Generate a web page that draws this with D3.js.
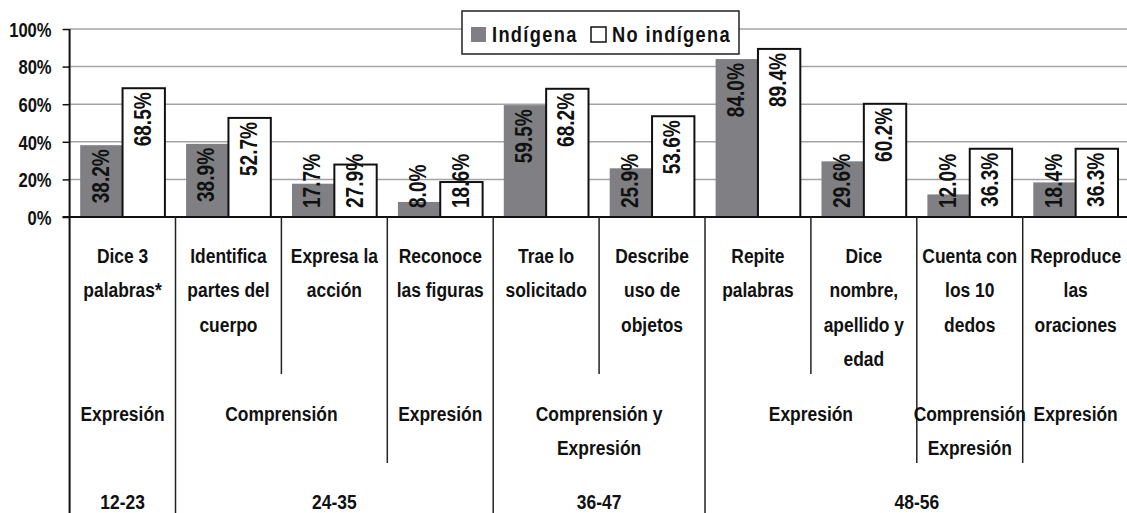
<!DOCTYPE html>
<html>
<head>
<meta charset="utf-8">
<script src="https://cdn.jsdelivr.net/npm/d3@7"></script>
<style>
  body { margin: 0; background: #fff; }
  svg { display: block; }
  text { font-family: "Liberation Sans", Arial, sans-serif; font-weight: bold; fill: #111; }
</style>
</head>
<body>
<div id="chart"></div>
<script>
// Chart data
const items = [
  ["Dice 3", "palabras*"],
  ["Identifica", "partes del", "cuerpo"],
  ["Expresa la", "acción"],
  ["Reconoce", "las figuras"],
  ["Trae lo", "solicitado"],
  ["Describe", "uso de", "objetos"],
  ["Repite", "palabras"],
  ["Dice", "nombre,", "apellido y", "edad"],
  ["Cuenta con", "los 10", "dedos"],
  ["Reproduce", "las", "oraciones"]
];
const areas = [
  { from: 0, to: 0, lines: ["Expresión"] },
  { from: 1, to: 2, lines: ["Comprensión"] },
  { from: 3, to: 3, lines: ["Expresión"] },
  { from: 4, to: 5, lines: ["Comprensión y", "Expresión"] },
  { from: 6, to: 7, lines: ["Expresión"] },
  { from: 8, to: 8, lines: ["Comprensión", "Expresión"] },
  { from: 9, to: 9, lines: ["Expresión"] }
];
const ages = [
  { from: 0, to: 0, label: "12-23" },
  { from: 1, to: 3, label: "24-35" },
  { from: 4, to: 5, label: "36-47" },
  { from: 6, to: 9, label: "48-56" }
];
const seriesNames = ["Indígena", "No indígena"];
const indigena = [38.2, 38.9, 17.7, 8.0, 59.5, 25.9, 84.0, 29.6, 12.0, 18.4];
const noIndigena = [68.5, 52.7, 27.9, 18.6, 68.2, 53.6, 89.4, 60.2, 36.3, 36.3];
const yTicks = [0, 20, 40, 60, 80, 100];

(function() {
  const W = 1127, H = 513;
  const left = 69.6, right = 1128.6, top = 29, zeroY = 217;
  const narrow = 0.83; // no Arial Narrow installed: squeeze Liberation Sans

  const svg = d3.select("#chart").append("svg")
    .attr("width", W).attr("height", H);

  const x = d3.scaleBand().domain(d3.range(items.length)).range([left, right]);
  const x1 = d3.scaleBand().domain(seriesNames).range([0, x.bandwidth()])
    .paddingInner(0).paddingOuter(0.25);
  const y = d3.scaleLinear().domain([0, 100]).range([zeroY, top]);

  // Gridlines
  svg.append("g").selectAll("line")
    .data(yTicks.filter(d => d > 0))
    .join("line")
    .attr("x1", left).attr("x2", W)
    .attr("y1", d => y(d)).attr("y2", d => y(d))
    .attr("stroke", "#a3a3a8").attr("stroke-width", 1.5);

  // Y axis
  const yAxis = d3.axisLeft(y).tickValues(yTicks).tickSize(7).tickPadding(0)
    .tickFormat(d => d + "%");
  const gy = svg.append("g").attr("transform", `translate(${left},0)`).call(yAxis);
  gy.select(".domain").remove();
  gy.selectAll(".tick line").attr("stroke", "#111").attr("stroke-width", 1.5);
  gy.selectAll(".tick text")
    .attr("x", null).attr("dy", "0.36em")
    .attr("transform", `translate(-18,0) scale(${narrow},1)`)
    .style("font-size", "20px")
    .style("font-family", "\"Liberation Sans\", Arial, sans-serif")
    .style("font-weight", "bold").attr("fill", "#111");

  // Bars
  const rows = items.map((d, i) => ({ i, vals: [indigena[i], noIndigena[i]] }));
  const groups = svg.append("g").selectAll("g")
    .data(rows).join("g")
    .attr("transform", d => `translate(${x(d.i)},0)`);

  groups.selectAll("rect")
    .data(d => d.vals.map((v, k) => ({ key: seriesNames[k], v })))
    .join("rect")
    .attr("x", d => x1(d.key))
    .attr("width", x1.bandwidth())
    .attr("y", d => y(d.v))
    .attr("height", d => zeroY - y(d.v))
    .attr("fill", d => d.key === "Indígena" ? "#7f7f84" : "#fff")
    .attr("stroke", d => d.key === "Indígena" ? "none" : "#111")
    .attr("stroke-width", 2);

  // Value labels, rotated, inside end
  groups.selectAll("text.val")
    .data(d => d.vals.map((v, k) => ({ key: seriesNames[k], v })))
    .join("text")
    .attr("class", "val")
    .style("font-size", "23px")
    .attr("dominant-baseline", "central")
    .text(d => d.v.toFixed(1) + "%")
    .each(function(d) {
      const len = this.getComputedTextLength() * narrow;
      const cx = x1(d.key) + x1.bandwidth() / 2 - 1;
      let startY = y(d.v) + 4 + len;
      if (startY > zeroY - 9) startY = zeroY - 9;
      d3.select(this).attr("transform",
        `translate(${cx},${startY}) rotate(-90) scale(${narrow},1)`);
    });

  // Zero axis line and left axis line
  svg.append("line").attr("x1", left - 7).attr("x2", W)
    .attr("y1", zeroY).attr("y2", zeroY)
    .attr("stroke", "#111").attr("stroke-width", 2);
  svg.append("line").attr("x1", left).attr("x2", left)
    .attr("y1", top).attr("y2", H)
    .attr("stroke", "#111").attr("stroke-width", 2);

  // Category dividers (multi-level)
  const level1End = 374, level2End = 463;
  const ageStarts = new Set(ages.map(a => a.from));
  const areaStarts = new Set(areas.map(a => a.from));
  const dividers = d3.range(1, items.length).map(i => ({
    x: x(i),
    end: ageStarts.has(i) ? H : (areaStarts.has(i) ? level2End : level1End)
  }));
  svg.append("g").selectAll("line")
    .data(dividers).join("line")
    .attr("x1", d => d.x).attr("x2", d => d.x)
    .attr("y1", zeroY).attr("y2", d => d.end)
    .attr("stroke", "#222").attr("stroke-width", 1.5);

  // helper for multi-line, squeezed labels
  function multiLine(g, data, cxFn, y0, linesFn, lineH) {
    g.selectAll("text")
      .data(data).join("text")
      .attr("text-anchor", "middle")
      .style("font-size", "21px")
      .attr("transform", (d, i) => `translate(${cxFn(d, i)},${y0}) scale(${narrow},1)`)
      .selectAll("tspan")
      .data(linesFn).join("tspan")
      .attr("x", 0)
      .attr("dy", (d, k) => k === 0 ? 0 : lineH)
      .text(d => d);
  }

  // Item labels
  multiLine(svg.append("g"), items, (d, i) => x(i) + x.bandwidth() / 2, 263, d => d, 34.5);
  // Area labels
  multiLine(svg.append("g"), areas, d => (x(d.from) + x(d.to) + x.bandwidth()) / 2, 421, d => d.lines, 34);
  // Age labels
  multiLine(svg.append("g"), ages, d => (x(d.from) + x(d.to) + x.bandwidth()) / 2, 509, d => [d.label], 0);

  // Legend
  const legend = svg.append("g").attr("transform", "translate(462,11)");
  legend.append("rect").attr("width", 277).attr("height", 43)
    .attr("fill", "#fff").attr("stroke", "#222").attr("stroke-width", 1.5);
  const legendItems = [
    { name: seriesNames[0], sx: 9, tx: 30, fill: "#7f7f84", stroke: "none" },
    { name: seriesNames[1], sx: 129, tx: 150, fill: "#fff", stroke: "#111" }
  ];
  legendItems.forEach(li => {
    legend.append("rect").attr("x", li.sx).attr("y", 16).attr("width", 15).attr("height", 15)
      .attr("fill", li.fill).attr("stroke", li.stroke).attr("stroke-width", 1.5);
    legend.append("text")
      .attr("transform", `translate(${li.tx},30.5) scale(${narrow},1)`)
      .style("font-size", "22px").style("letter-spacing", "1.6px")
      .text(li.name);
  });
})();
</script>
</body>
</html>
